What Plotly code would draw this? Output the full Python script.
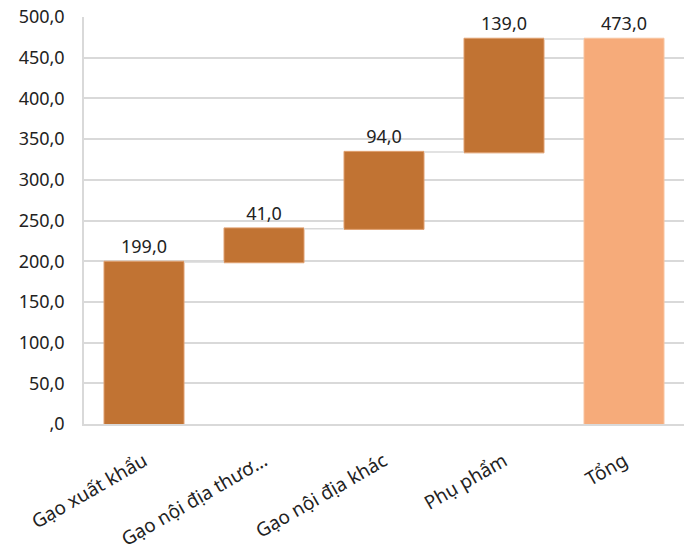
import plotly.graph_objects as go

categories = ["Gạo xuất khẩu", "Gạo nội địa thươ…", "Gạo nội địa khác", "Phụ phẩm", "Tổng"]
values = [199.0, 41.0, 94.0, 139.0, 473.0]
measures = ["relative", "relative", "relative", "relative", "total"]
tick_vals = [0, 50, 100, 150, 200, 250, 300, 350, 400, 450, 500]

def fmt(v):
    s = f"{v:.1f}".replace(".", ",")
    return ",0" if v == 0 else s

tick_text = [fmt(v) for v in tick_vals]
labels = [fmt(v) for v in values]

font_family = "Noto Sans, Open Sans, sans-serif"

fig = go.Figure(go.Waterfall(
    x=categories,
    y=[v if m == "relative" else 0 for v, m in zip(values, measures)],
    measure=measures,
    text=labels,
    textposition="outside",
    textfont=dict(size=18, color="#222222", family=font_family),
    increasing=dict(marker=dict(color="#C17333", line=dict(color="#E0A070", width=1))),
    totals=dict(marker=dict(color="#F6AB7A", line=dict(color="#F8C4A0", width=1))),
    connector=dict(line=dict(color="#D9D9D9", width=1.5)),
    cliponaxis=False,
    hoverinfo="skip",
))

fig.update_layout(
    width=688, height=552,
    margin=dict(l=84, r=4, t=17, b=128),
    paper_bgcolor="white", plot_bgcolor="white",
    waterfallgap=1/3,
    showlegend=False,
    font=dict(family=font_family, size=18, color="#222222"),
    xaxis=dict(
        tickangle=-30,
        tickfont=dict(size=19, color="#222222"),
        showgrid=False,
        showline=True, linecolor="#D9D9D9", linewidth=1.5,
        ticks="",
        ticklabelstandoff=17,
        automargin=False,
    ),
    yaxis=dict(
        range=[0, 500],
        tickvals=tick_vals, ticktext=tick_text,
        tickfont=dict(size=18, color="#222222"),
        showgrid=True, gridcolor="#D9D9D9", gridwidth=1.5,
        showline=True, linecolor="#D9D9D9", linewidth=1.5,
        zeroline=False,
        ticks="", ticklen=0,
        ticklabelstandoff=14,
        automargin=False,
    ),
)

fig.write_html("out.html")
